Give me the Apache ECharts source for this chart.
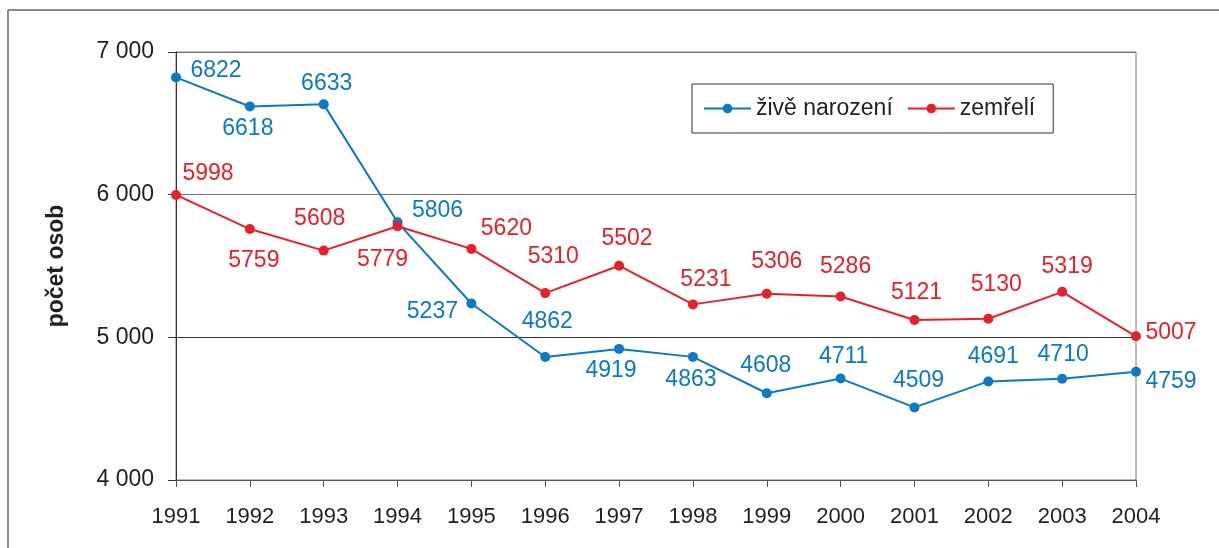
<!DOCTYPE html>
<html>
<head>
<meta charset="utf-8">
<script src="https://cdn.jsdelivr.net/npm/echarts@6/dist/echarts.min.js"></script>
<style>
html,body{margin:0;padding:0;background:#fff;}
#c{width:1219px;height:548px;}
</style>
</head>
<body>
<div id="c"></div>
<script>
const years = ['1991','1992','1993','1994','1995','1996','1997','1998','1999','2000','2001','2002','2003','2004'];
const births = [6822,6618,6633,5806,5237,4862,4919,4863,4608,4711,4509,4691,4710,4759];
const deaths = [5998,5759,5608,5779,5620,5310,5502,5231,5306,5286,5121,5130,5319,5007];
const seriesNames = ['živě narození','zemřelí'];
const yTicks = [4000,5000,6000,7000];

// label placement (pixel offsets from each point)
const birthOffsets = [[40,-7],[-2,22],[3,-21],[40,-12],[-39,8],[2,-35],[-8,22],[-2,23],[-1,-28],[3,-22],[4,-27],[5,-25],[1,-24],[35,10]];
const deathOffsets = [[32,-21],[4,32],[-4,-32],[-15,33],[35,-20],[8,-36],[8,-27],[13,-25],[10,-32],[5,-30],[2,-27],[8,-34],[5,-25],[35,-4]];

const BLUE = '#0A7AC4';
const RED = '#E8202A';
const TXT = '#231F20';
const FONT = '"Liberation Sans", Arial, sans-serif';

function mk(values, offsets) {
  return values.map((v, i) => ({
    value: v,
    label: { offset: offsets[i] }
  }));
}

const chart = echarts.init(document.getElementById('c'), null, {renderer: 'canvas'});
chart.setOption({
  animation: false,
  backgroundColor: '#fff',
  textStyle: { fontFamily: FONT },
  grid: { left: 176, right: 83, top: 52, bottom: 68, show: true, borderColor: '#7a7a7a', borderWidth: 1, backgroundColor: 'transparent' },
  legend: {
    left: 692, top: 84,
    orient: 'horizontal',
    itemWidth: 47, itemHeight: 12, itemGap: 14,
    padding: [13, 18, 13, 11],
    borderColor: '#333', borderWidth: 1,
    textStyle: { fontSize: 23, color: TXT, fontFamily: FONT },
    data: seriesNames
  },
  xAxis: {
    type: 'category',
    data: years,
    boundaryGap: false,
    axisLine: { lineStyle: { color: '#555', width: 1 } },
    axisTick: { show: true, length: 7, alignWithLabel: true, lineStyle: { color: '#555' } },
    axisLabel: { fontSize: 22, color: TXT, margin: 26, fontFamily: FONT },
    splitLine: { show: false }
  },
  yAxis: {
    type: 'value',
    min: yTicks[0], max: yTicks[yTicks.length-1], interval: 1000,
    name: 'počet osob',
    nameLocation: 'middle',
    nameGap: 108,
    nameRotate: 90,
    nameTextStyle: { fontSize: 23, fontWeight: 'bold', color: TXT, fontFamily: FONT },
    axisLine: { show: true, lineStyle: { color: '#333', width: 1 } },
    axisTick: { show: true, inside: false, length: 8, lineStyle: { color: '#333' } },
    axisLabel: {
      fontSize: 23, color: TXT, margin: 22, fontFamily: FONT,
      formatter: v => String(v).replace(/\B(?=(\d{3})+(?!\d))/g, ' ')
    },
    splitLine: { show: true, lineStyle: { color: ['#333','#333','#777','#777'], width: 1 } }
  },
  series: [
    {
      name: seriesNames[0], type: 'line', data: mk(births, birthOffsets),
      symbol: 'circle', symbolSize: 10,
      lineStyle: { color: BLUE, width: 2 }, itemStyle: { color: BLUE },
      label: { show: true, position: 'inside', color: BLUE, fontSize: 23, fontFamily: FONT, align: 'center', verticalAlign: 'middle' },
      z: 3
    },
    {
      name: seriesNames[1], type: 'line', data: mk(deaths, deathOffsets),
      symbol: 'circle', symbolSize: 10,
      lineStyle: { color: RED, width: 2 }, itemStyle: { color: RED },
      label: { show: true, position: 'inside', color: RED, fontSize: 23, fontFamily: FONT, align: 'center', verticalAlign: 'middle' },
      z: 4
    }
  ],
  graphic: [
    { type: 'line', shape: { x1: 8, y1: 10, x2: 1219, y2: 10 }, style: { stroke: '#8a8a8a', lineWidth: 2 } },
    { type: 'line', shape: { x1: 8, y1: 10, x2: 8, y2: 548 }, style: { stroke: '#8a8a8a', lineWidth: 2 } }
  ]
});
</script>
</body>
</html>
